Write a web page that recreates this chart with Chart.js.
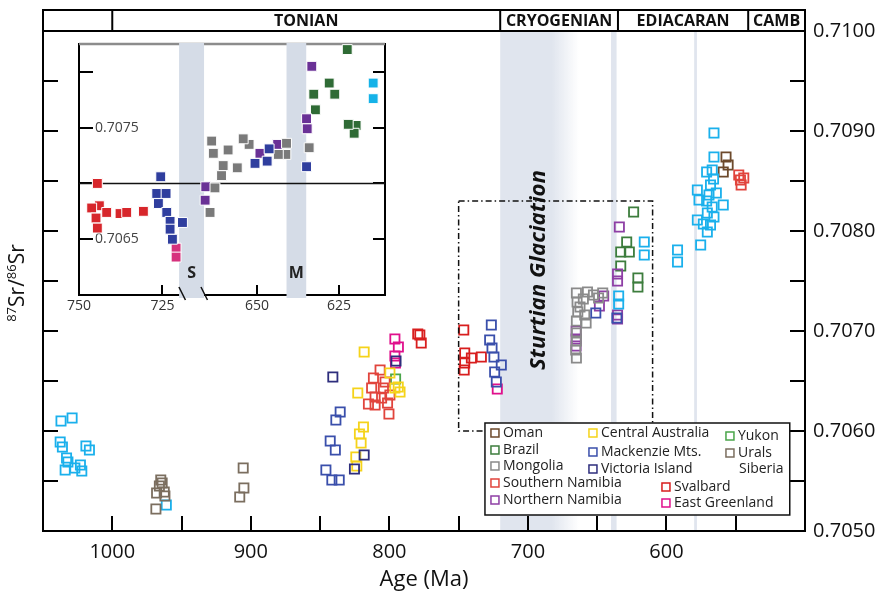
<!DOCTYPE html>
<html>
<head>
<meta charset="utf-8">
<script src="https://cdn.jsdelivr.net/npm/chart.js@4.4.1/dist/chart.umd.min.js"></script>
<style>
  body { margin: 0; background: #fff; }
  #wrap { position: relative; width: 889px; height: 597px; }
  #mainChart { position: absolute; left: 0; top: 0; }
  #insetChart { position: absolute; left: 60px; top: 36px; }
</style>
</head>
<body>
<div id="wrap">
  <canvas id="mainChart" width="889" height="597"></canvas>
  <canvas id="insetChart" width="340" height="285"></canvas>
</div>
<script>
// Main plot data: [age (Ma), 87Sr/86Sr]
const oman = [[557, 0.70874], [555.5, 0.70866], [559, 0.70859]];
const brazil = [[623.7, 0.70819], [628.7, 0.70789], [633, 0.70779], [626.8, 0.70779], [633, 0.70765], [620.6, 0.70753], [620.6, 0.70744]];
const mongolia = [[665, 0.70738], [664.5, 0.70729], [657, 0.70739], [646, 0.70738], [664, 0.70719], [659, 0.70716], [658, 0.70708], [665, 0.70698],
  [665, 0.70673], [652.7, 0.70736], [662.4, 0.70724], [665, 0.70710], [665, 0.70690], [665.5, 0.70681], [660, 0.70732], [649, 0.70733]];
const southernNamibia = [[806.7, 0.70661], [811.5, 0.70653], [803.1, 0.70649], [812.8, 0.70643], [810.3, 0.70634], [804.3, 0.70643], [815.1, 0.70627],
  [810.3, 0.70626], [801.3, 0.70628], [799.6, 0.70636], [800.3, 0.70617], [805.6, 0.70633], [547.8, 0.70856], [546.6, 0.70851], [546.1, 0.70846], [544.2, 0.70853]];
const northernNamibia = [[665.2, 0.70700], [665.2, 0.70692], [665.2, 0.70685], [645.3, 0.70735], [648.4, 0.70725], [634, 0.70804], [635.3, 0.70757],
  [635.3, 0.70750], [635.3, 0.70716], [635.3, 0.70712]];
const centralAustralia = [[818.2, 0.70679], [822.8, 0.70638], [799.6, 0.70658], [818.7, 0.70604], [821.6, 0.70597], [820.4, 0.70588], [824.2, 0.70574],
  [823.5, 0.70565], [796, 0.70643], [792.3, 0.70639], [793.6, 0.70644]];
const mackenzie = [[835.5, 0.70619], [838.6, 0.70611], [842.7, 0.70590], [839, 0.70581], [845.8, 0.70561], [841.5, 0.70551], [836.2, 0.70551],
  [726.4, 0.70706], [727.6, 0.70691], [725.9, 0.70683], [724.5, 0.70674], [719.2, 0.70666], [724, 0.70659], [722.8, 0.70649], [651, 0.70718], [635.8, 0.70713]];
const victoriaIsland = [[840.8, 0.70654], [818.2, 0.70576], [825.2, 0.70562], [795.2, 0.70670]];
const svalbard = [[778, 0.70696], [777, 0.70688], [779.5, 0.70697], [746.3, 0.70701], [745.6, 0.70678], [740.8, 0.70673], [745.6, 0.70668], [746, 0.70661], [733.6, 0.70674]];
const eastGreenland = [[796, 0.70692], [793.5, 0.70684], [796, 0.70675], [795.6, 0.70668], [722.1, 0.70642]];
const yukon = [[795.5, 0.70652]];
const urals = [[965, 0.70551], [966, 0.70545], [968, 0.70538], [962.5, 0.70539], [962, 0.70535], [968.5, 0.70522], [964, 0.70548],
  [905.5, 0.70563], [905, 0.70543], [908, 0.70534]];
const siberia = [[1037, 0.70610], [1029, 0.70613], [1037.6, 0.70589], [1036, 0.70584], [1019, 0.70585], [1016.5, 0.70581], [1033, 0.70573],
  [1032, 0.70569], [1034, 0.70561], [1023, 0.70566], [1022, 0.70560], [1027, 0.70563], [961, 0.70526],
  [634.5, 0.70735], [634.5, 0.70727], [616, 0.70789], [616, 0.70776],
  [565.7, 0.70898], [565.7, 0.70874], [567, 0.70861], [571, 0.70859], [568.2, 0.70846], [577.7, 0.70841], [569.3, 0.70836], [576.5, 0.70831],
  [567, 0.70824], [559, 0.70826], [570.5, 0.70818], [565.7, 0.70814], [577.7, 0.70811], [573.4, 0.70807], [568.2, 0.70806], [570.5, 0.70799],
  [575.3, 0.70786], [592, 0.70781], [592, 0.70769], [566, 0.70852], [564, 0.70838], [571, 0.70830]];

// Inset (close-up of the dashed box)
const insetSvalbard = [[744.5, 0.70700], [743.9, 0.70680], [746.2, 0.70678], [744.9, 0.70669], [744.5, 0.70660], [737.7, 0.70673], [735.7, 0.70674], [730.7, 0.70675], [741.7, 0.70674]];
const insetMackenzie = [[725.5, 0.70706], [726.7, 0.70691], [726.2, 0.70682], [723.9, 0.70691], [723.7, 0.70674], [722.7, 0.70666], [718.9, 0.70665], [722, 0.70650],
  [722.7, 0.70659], [646.3, 0.70731], [646.9, 0.70720], [650.6, 0.70718], [634.9, 0.70715]];
const insetEastGreenland = [[720.9, 0.70642], [720.9, 0.70634]];
const insetMongolia = [[663.8, 0.70738], [663.3, 0.70727], [660.3, 0.70716], [660.8, 0.70707], [656, 0.70714], [652.4, 0.70735], [658.8, 0.70730],
  [641.2, 0.70726], [643.5, 0.70726], [634.1, 0.70732], [654.2, 0.70740], [641, 0.70736], [662.8, 0.70696], [664.3, 0.70674]];
const insetNorthernNamibia = [[665.6, 0.70697], [665.8, 0.70685], [633.3, 0.70805], [634.9, 0.70758], [634.7, 0.70749], [643.7, 0.70735], [649.1, 0.70727]];
const insetBrazil = [[622.5, 0.70820], [628, 0.70790], [632.7, 0.70780], [626.3, 0.70780], [632.2, 0.70766], [619.8, 0.70752], [620.4, 0.70745], [622.2, 0.70753]];
const insetSiberia = [[614.6, 0.70790], [614.6, 0.70776]];

const xTickLabels = [1000, 900, 800, 700, 600];
const yTickLabels = ['0.7050', '0.7060', '0.7070', '0.7080', '0.7090', '0.7100'];
const insetXTicks = [750, 725, 650, 625];
const insetYTicks = [0.7065, 0.7070, 0.7075, 0.7080];
const insetYLabels = ['0.7065', '0.7075'];
const insetRefLine = 0.7070;

const periods = [['TONIAN', 1000, 720], ['CRYOGENIAN', 720, 635], ['EDIACARAN', 635, 541], ['CAMB', 541, 500]];
const sturtian = [720, 663];
const glaciations = [[640, 636], [580, 578]];
const insetBands = [['S', 720, 667], ['M', 641, 635]];
const zoomBox = [750, 610, 0.7060, 0.7083];   // ages, Sr bounds of the dashed box

const colors = {
  Oman: '#6d4a2c', Brazil: '#3d7d3d', Mongolia: '#8a8a8a', 'Southern Namibia': '#e1443c', 'Northern Namibia': '#8e3fa5',
  'Central Australia': '#f5d31a', 'Mackenzie Mts.': '#3a4fab', 'Victoria Island': '#2e2e7d', Svalbard: '#d81e1e',
  'East Greenland': '#e0108c', Yukon: '#4aa54a', Urals: '#7b6e5f', Siberia: '#1ab0ec'
};

const mainSeries = [
  ['Urals', urals], ['Siberia', siberia], ['Victoria Island', victoriaIsland], ['Mackenzie Mts.', mackenzie],
  ['Central Australia', centralAustralia], ['Southern Namibia', southernNamibia], ['Yukon', yukon], ['East Greenland', eastGreenland],
  ['Svalbard', svalbard], ['Mongolia', mongolia], ['Northern Namibia', northernNamibia], ['Brazil', brazil], ['Oman', oman]
];
const insetSeries = [
  ['Svalbard', insetSvalbard, '#d7262b'], ['Mackenzie Mts.', insetMackenzie, '#2f3e9e'], ['East Greenland', insetEastGreenland, '#d6317d'],
  ['Mongolia', insetMongolia, '#7a7a7a'], ['Northern Namibia', insetNorthernNamibia, '#6a3196'], ['Brazil', insetBrazil, '#2f6b35'],
  ['Siberia', insetSiberia, '#15b2e8']
];

// legend slots: label, swatch x offset, row y offset (from box corner)
const legendSlots = [
  ['Oman', 6, 10], ['Brazil', 6, 27], ['Mongolia', 6, 43], ['Southern Namibia', 6, 60], ['Northern Namibia', 6, 77],
  ['Central Australia', 104, 10], ['Mackenzie Mts.', 104, 29], ['Victoria Island', 104, 46],
  ['Svalbard', 177, 64], ['East Greenland', 177, 80], ['Yukon', 241, 13], ['Urals', 241, 30]
];
const legendBox = [731, 511, 0.70608, 0.70516];

const FONT = '"Open Sans", "Liberation Sans", sans-serif';
const bandColor = '#e0e5ee';
const toPts = arr => arr.map(p => ({ x: p[0], y: p[1] }));

function line(ctx, x1, y1, x2, y2) {
  ctx.beginPath(); ctx.moveTo(x1, y1); ctx.lineTo(x2, y2); ctx.stroke();
}
// fixed axis sizes, no extra label padding pushed into the layout
const fixSize = (prop, size) => s => {
  s[prop] = size;
  s.paddingTop = 0; s.paddingBottom = 0; s.paddingLeft = 0; s.paddingRight = 0;
};

const mainDecor = {
  id: 'mainDecor',
  beforeDraw(chart) {
    const { ctx, chartArea: a, scales: { x } } = chart;
    ctx.save();
    const s1 = x.getPixelForValue(sturtian[0]), s2 = x.getPixelForValue(sturtian[1]);
    const g = ctx.createLinearGradient(s1, 0, s2, 0);
    g.addColorStop(0, bandColor); g.addColorStop(0.65, bandColor); g.addColorStop(1, 'rgba(224,229,238,0)');
    ctx.fillStyle = g;
    ctx.fillRect(s1, a.top, s2 - s1, a.bottom - a.top);
    ctx.fillStyle = bandColor;
    glaciations.forEach(([from, to]) => {
      const p1 = x.getPixelForValue(from), p2 = x.getPixelForValue(to);
      ctx.fillRect(p1, a.top, p2 - p1, a.bottom - a.top);
    });
    ctx.restore();
  },
  afterDatasetsDraw(chart) {
    const { ctx, scales: { x, y } } = chart;
    ctx.save();
    // Sturtian Glaciation label
    ctx.translate(x.getPixelForValue(692), y.getPixelForValue(0.70761));
    ctx.rotate(-Math.PI / 2);
    ctx.font = 'italic bold 22px ' + FONT;
    const w = ctx.measureText('Sturtian Glaciation').width;
    ctx.scale(200 / w, 1);
    ctx.fillStyle = '#111'; ctx.textAlign = 'center'; ctx.textBaseline = 'middle';
    ctx.fillText('Sturtian Glaciation', 0, 0);
    ctx.restore();

    // dashed box
    ctx.save();
    ctx.strokeStyle = '#111'; ctx.lineWidth = 1.5; ctx.setLineDash([6, 3, 1.5, 3]);
    const bx1 = x.getPixelForValue(zoomBox[0]), bx2 = x.getPixelForValue(zoomBox[1]);
    const by1 = y.getPixelForValue(zoomBox[3]), by2 = y.getPixelForValue(zoomBox[2]);
    ctx.strokeRect(bx1, by1, bx2 - bx1, by2 - by1);
    ctx.restore();

    // legend
    ctx.save();
    const lx = x.getPixelForValue(legendBox[0]), rx = x.getPixelForValue(legendBox[1]);
    const ty = y.getPixelForValue(legendBox[2]), bty = y.getPixelForValue(legendBox[3]);
    ctx.fillStyle = '#fff'; ctx.fillRect(lx, ty, rx - lx, bty - ty);
    ctx.strokeStyle = '#111'; ctx.lineWidth = 1.5; ctx.strokeRect(lx, ty, rx - lx, bty - ty);
    ctx.font = '14px ' + FONT; ctx.textBaseline = 'middle'; ctx.textAlign = 'left';
    legendSlots.forEach(([label, sx, ry]) => {
      ctx.strokeStyle = colors[label]; ctx.lineWidth = 1.5;
      ctx.strokeRect(lx + sx, ty + ry - 4, 8, 8);
      ctx.fillStyle = '#222';
      ctx.fillText(label, lx + sx + 12, ty + ry);
    });
    ctx.fillText('Siberia', lx + 254, ty + 46);
    ctx.restore();
  },
  afterDraw(chart) {
    const { ctx, chartArea: a, scales: { x } } = chart;
    const top0 = 10;
    ctx.save();
    ctx.strokeStyle = '#000'; ctx.lineWidth = 2;
    line(ctx, a.left - 1, top0, a.right + 1, top0);
    line(ctx, a.left, a.top, a.right, a.top);
    line(ctx, a.left, top0, a.left, a.top);
    line(ctx, a.right, top0, a.right, a.top);
    ctx.font = 'bold 16px ' + FONT; ctx.fillStyle = '#111';
    ctx.textAlign = 'center'; ctx.textBaseline = 'middle';
    periods.forEach(([name, from, to]) => {
      const p1 = x.getPixelForValue(from), p2 = Math.min(x.getPixelForValue(to), a.right);
      line(ctx, p1, top0, p1, a.top);
      ctx.fillText(name, (p1 + p2) / 2, (top0 + a.top) / 2 + 1);
    });

    // y-axis title with superscripts
    ctx.translate(17, 283);
    ctx.rotate(-Math.PI / 2);
    const parts = [['87', 13, -8], ['Sr/', 21, 0], ['86', 13, -8], ['Sr', 21, 0]];
    let total = 0;
    parts.forEach(p => { ctx.font = p[1] + 'px ' + FONT; total += ctx.measureText(p[0]).width; });
    let cx = -total / 2;
    ctx.textAlign = 'left'; ctx.textBaseline = 'alphabetic'; ctx.fillStyle = '#111';
    parts.forEach(p => {
      ctx.font = p[1] + 'px ' + FONT;
      ctx.fillText(p[0], cx, 7 + p[2]);
      cx += ctx.measureText(p[0]).width;
    });
    ctx.restore();
  }
};

const axisGrid = len => ({ drawOnChartArea: false, tickLength: len, lineWidth: 2, color: '#000' });

new Chart(document.getElementById('mainChart'), {
  type: 'scatter',
  data: {
    datasets: mainSeries.map(([label, data]) => ({
      label, data: toPts(data), borderColor: colors[label], backgroundColor: 'rgba(255,255,255,0)',
      pointStyle: 'rect', pointRadius: 6.5, borderWidth: 1.8
    }))
  },
  options: {
    responsive: false, animation: false, events: [],
    layout: { padding: { top: 31 } },
    plugins: { legend: { display: false }, tooltip: { enabled: false } },
    scales: {
      x: {
        type: 'linear', reverse: true, min: 500, max: 1050, position: 'bottom',
        afterFit: fixSize('height', 66),
        grid: axisGrid(-15), border: { color: '#000', width: 2 },
        ticks: { stepSize: 50, autoSkip: false, maxRotation: 0, padding: 24, color: '#111', font: { family: FONT, size: 20 },
          callback: v => xTickLabels.includes(v) ? String(v) : '' },
        title: { display: true, text: 'Age (Ma)', color: '#111', font: { family: FONT, size: 22 }, padding: { top: 0, bottom: 4 } }
      },
      y: {
        position: 'right', min: 0.7050, max: 0.7100,
        afterFit: fixSize('width', 84),
        grid: axisGrid(-15), border: { color: '#000', width: 2 },
        ticks: { stepSize: 0.0005, autoSkip: false, padding: 23, color: '#111', font: { family: FONT, size: 20 },
          callback: v => yTickLabels.includes(v.toFixed(4)) ? v.toFixed(4) : '' }
      },
      yl: {
        position: 'left', min: 0.7050, max: 0.7100,
        afterFit: fixSize('width', 43),
        grid: axisGrid(-15), border: { color: '#000', width: 2 },
        ticks: { stepSize: 0.0005, autoSkip: false, font: { size: 1 }, callback: () => '' }
      }
    }
  },
  plugins: [mainDecor]
});

// Inset x axis is broken between ~719 and ~666 Ma
const insetBreak = [[750, 0], [719, 0.338], [666, 0.41], [611, 1]];
function brokenFraction(v) {
  for (let i = 0; i < insetBreak.length - 1; i++) {
    const [a0, f0] = insetBreak[i], [a1, f1] = insetBreak[i + 1];
    if (v >= a1 || i === insetBreak.length - 2) return f0 + (a0 - v) / (a0 - a1) * (f1 - f0);
  }
}
class BrokenScale extends Chart.LinearScale {
  getPixelForValue(v) { return this.getPixelForDecimal(brokenFraction(v)); }
}
BrokenScale.id = 'broken';
BrokenScale.defaults = Chart.LinearScale.defaults;
Chart.register(BrokenScale);

const insetDecor = {
  id: 'insetDecor',
  beforeDraw(chart) {
    const { ctx, chartArea: a } = chart;
    ctx.save(); ctx.fillStyle = '#fff';
    ctx.fillRect(a.left, a.top, a.right - a.left, a.bottom - a.top);
    ctx.restore();
  },
  beforeDatasetsDraw(chart) {
    const { ctx, chartArea: a, scales: { x, y } } = chart;
    ctx.save();
    ctx.strokeStyle = '#8c8c8c'; ctx.lineWidth = 2.5;
    line(ctx, a.left, a.top, a.right, a.top);
    insetBands.forEach(([label, from, to]) => {
      const p1 = x.getPixelForValue(from), p2 = x.getPixelForValue(to);
      ctx.fillStyle = '#d5dce7';
      ctx.fillRect(p1, a.top - 1, p2 - p1, a.bottom - a.top + 4);
      ctx.fillStyle = '#222'; ctx.font = 'bold 16px ' + FONT;
      ctx.textAlign = 'center'; ctx.textBaseline = 'middle';
      ctx.fillText(label, (p1 + p2) / 2, a.bottom - 22);
    });
    const yl = y.getPixelForValue(insetRefLine);
    ctx.strokeStyle = '#111'; ctx.lineWidth = 1.5;
    line(ctx, a.left, yl, a.right, yl);
    ctx.restore();
  },
  afterDraw(chart) {
    const { ctx, chartArea: a, scales: { x } } = chart;
    ctx.save();
    ctx.strokeStyle = '#111'; ctx.lineWidth = 1.5;
    [insetBreak[1][0], insetBreak[2][0]].forEach(v => {
      const px = x.getPixelForValue(v);
      line(ctx, px - 3.5, a.bottom - 8, px + 3, a.bottom + 5);
    });
    ctx.restore();
  }
};

const insetTicksFont = { family: FONT, size: 14 };
new Chart(document.getElementById('insetChart'), {
  type: 'scatter',
  data: {
    datasets: insetSeries.map(([label, data, color]) => ({
      label, data: toPts(data), backgroundColor: color, borderColor: '#fff',
      pointStyle: 'rect', pointRadius: 7, borderWidth: 1
    }))
  },
  options: {
    responsive: false, animation: false, events: [],
    layout: { padding: { top: 6 } },
    plugins: { legend: { display: false }, tooltip: { enabled: false } },
    scales: {
      x: {
        type: 'broken', min: 611, max: 750, position: 'bottom',
        afterBuildTicks: s => { s.ticks = insetXTicks.map(v => ({ value: v })); },
        afterFit: fixSize('height', 26),
        grid: axisGrid(-10), border: { color: '#000', width: 2 },
        ticks: { autoSkip: false, maxRotation: 0, padding: 13, color: '#333', font: insetTicksFont, callback: v => String(v) }
      },
      y: {
        position: 'left', min: 0.7060, max: 0.70825,
        afterBuildTicks: s => { s.ticks = insetYTicks.map(v => ({ value: v })); },
        afterFit: fixSize('width', 19),
        grid: axisGrid(-14), border: { color: '#000', width: 2 },
        ticks: { mirror: true, padding: 16, color: '#444', font: insetTicksFont,
          callback: v => insetYLabels.includes(v.toFixed(4)) ? v.toFixed(4) : '' }
      },
      y2: {
        position: 'right', min: 0.7060, max: 0.70825,
        afterBuildTicks: s => { s.ticks = insetYTicks.map(v => ({ value: v })); },
        afterFit: fixSize('width', 15),
        grid: axisGrid(-12), border: { color: '#000', width: 2 },
        ticks: { font: { size: 1 }, callback: () => '' }
      }
    }
  },
  plugins: [insetDecor]
});
</script>
</body>
</html>
